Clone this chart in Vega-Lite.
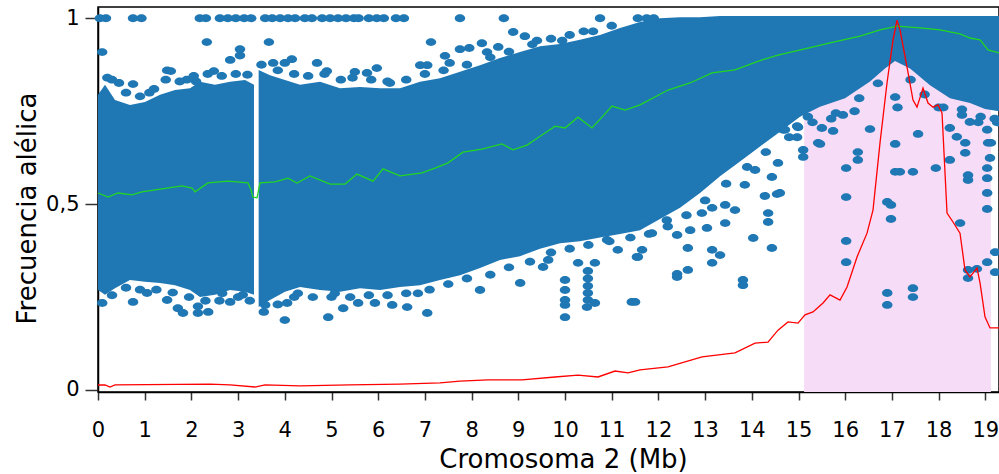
{
  "$schema": "https://vega.github.io/schema/vega-lite/v6.json",
  "width": 901,
  "height": 385,
  "autosize": {"type": "none"},
  "padding": {"left": 98, "top": 7, "right": 0, "bottom": 82},
  "background": "white",
  "config": {
    "font": "DejaVu Sans",
    "view": {"stroke": "black", "strokeWidth": 1.5},
    "axis": {"grid": false, "domainColor": "black", "domainWidth": 1.5, "tickColor": "#333333", "tickWidth": 1.5, "labelColor": "black", "titleColor": "black", "titleFontWeight": "normal", "labelFont": "DejaVu Sans", "titleFont": "DejaVu Sans"}
  },
  "datasets": {
    "region": [{"start": 15.12, "end": 19.12}],
    "band": [
      {"seg": "a", "pos": 0.0, "hi": 0.794, "lo": 0.269},
      {"seg": "a", "pos": 0.15, "hi": 0.821, "lo": 0.256},
      {"seg": "a", "pos": 0.364, "hi": 0.78, "lo": 0.274},
      {"seg": "a", "pos": 0.685, "hi": 0.767, "lo": 0.296},
      {"seg": "a", "pos": 1.006, "hi": 0.775, "lo": 0.291},
      {"seg": "a", "pos": 1.328, "hi": 0.794, "lo": 0.288},
      {"seg": "a", "pos": 1.649, "hi": 0.807, "lo": 0.282},
      {"seg": "a", "pos": 1.97, "hi": 0.812, "lo": 0.269},
      {"seg": "a", "pos": 2.184, "hi": 0.829, "lo": 0.25},
      {"seg": "a", "pos": 2.505, "hi": 0.821, "lo": 0.256},
      {"seg": "a", "pos": 2.827, "hi": 0.829, "lo": 0.269},
      {"seg": "a", "pos": 3.148, "hi": 0.834, "lo": 0.264},
      {"seg": "a", "pos": 3.34, "hi": 0.821, "lo": 0.256},
      {"seg": "b", "pos": 3.44, "hi": 0.861, "lo": 0.223},
      {"seg": "b", "pos": 3.683, "hi": 0.847, "lo": 0.242},
      {"seg": "b", "pos": 4.004, "hi": 0.834, "lo": 0.264},
      {"seg": "b", "pos": 4.325, "hi": 0.821, "lo": 0.277},
      {"seg": "b", "pos": 4.754, "hi": 0.829, "lo": 0.269},
      {"seg": "b", "pos": 5.182, "hi": 0.812, "lo": 0.264},
      {"seg": "b", "pos": 5.61, "hi": 0.815, "lo": 0.274},
      {"seg": "b", "pos": 6.039, "hi": 0.812, "lo": 0.269},
      {"seg": "b", "pos": 6.467, "hi": 0.812, "lo": 0.277},
      {"seg": "b", "pos": 6.895, "hi": 0.829, "lo": 0.282},
      {"seg": "b", "pos": 7.323, "hi": 0.839, "lo": 0.296},
      {"seg": "b", "pos": 7.752, "hi": 0.856, "lo": 0.309},
      {"seg": "b", "pos": 8.18, "hi": 0.874, "lo": 0.328},
      {"seg": "b", "pos": 8.608, "hi": 0.893, "lo": 0.35},
      {"seg": "b", "pos": 9.036, "hi": 0.909, "lo": 0.36},
      {"seg": "b", "pos": 9.465, "hi": 0.925, "lo": 0.38},
      {"seg": "b", "pos": 9.893, "hi": 0.931, "lo": 0.395},
      {"seg": "b", "pos": 10.321, "hi": 0.942, "lo": 0.4},
      {"seg": "b", "pos": 10.749, "hi": 0.955, "lo": 0.41},
      {"seg": "b", "pos": 11.178, "hi": 0.974, "lo": 0.42},
      {"seg": "b", "pos": 11.606, "hi": 0.99, "lo": 0.43},
      {"seg": "b", "pos": 12.034, "hi": 1.0, "lo": 0.46},
      {"seg": "b", "pos": 12.463, "hi": 1.003, "lo": 0.49},
      {"seg": "b", "pos": 12.891, "hi": 1.003, "lo": 0.53},
      {"seg": "b", "pos": 13.319, "hi": 1.006, "lo": 0.575},
      {"seg": "b", "pos": 13.747, "hi": 1.006, "lo": 0.615},
      {"seg": "b", "pos": 14.176, "hi": 1.006, "lo": 0.655},
      {"seg": "b", "pos": 14.604, "hi": 1.006, "lo": 0.695},
      {"seg": "b", "pos": 15.032, "hi": 1.006, "lo": 0.735},
      {"seg": "b", "pos": 15.46, "hi": 1.006, "lo": 0.762},
      {"seg": "b", "pos": 15.996, "hi": 1.006, "lo": 0.785},
      {"seg": "b", "pos": 16.531, "hi": 1.006, "lo": 0.83},
      {"seg": "b", "pos": 16.852, "hi": 1.006, "lo": 0.865},
      {"seg": "b", "pos": 17.066, "hi": 1.006, "lo": 0.885},
      {"seg": "b", "pos": 17.388, "hi": 1.006, "lo": 0.865},
      {"seg": "b", "pos": 17.816, "hi": 1.006, "lo": 0.82},
      {"seg": "b", "pos": 18.244, "hi": 1.006, "lo": 0.785},
      {"seg": "b", "pos": 18.672, "hi": 1.006, "lo": 0.772},
      {"seg": "b", "pos": 18.994, "hi": 1.006, "lo": 0.756},
      {"seg": "b", "pos": 19.293, "hi": 1.006, "lo": 0.75}
    ],
    "pts": [
      {"pos": 0.04, "af": 1}, {"pos": 0.17, "af": 1}, {"pos": 0.75, "af": 1}, {"pos": 0.93, "af": 1},
      {"pos": 2.18, "af": 1}, {"pos": 2.31, "af": 1}, {"pos": 2.61, "af": 1}, {"pos": 2.78, "af": 1},
      {"pos": 2.95, "af": 1}, {"pos": 3.13, "af": 1}, {"pos": 3.28, "af": 1}, {"pos": 3.58, "af": 1},
      {"pos": 3.73, "af": 1}, {"pos": 3.9, "af": 1}, {"pos": 4.07, "af": 1}, {"pos": 4.22, "af": 1},
      {"pos": 4.43, "af": 1}, {"pos": 4.58, "af": 1}, {"pos": 4.8, "af": 1}, {"pos": 4.97, "af": 1},
      {"pos": 5.14, "af": 1}, {"pos": 5.31, "af": 1}, {"pos": 5.48, "af": 1}, {"pos": 5.58, "af": 1},
      {"pos": 5.8, "af": 1}, {"pos": 5.97, "af": 1}, {"pos": 6.12, "af": 1}, {"pos": 6.38, "af": 1},
      {"pos": 6.55, "af": 1}, {"pos": 7.75, "af": 1}, {"pos": 8.69, "af": 1}, {"pos": 10.75, "af": 1},
      {"pos": 11.56, "af": 1}, {"pos": 11.75, "af": 1}, {"pos": 11.9, "af": 1},
      {"pos": 0.09, "af": 0.909}, {"pos": 2.33, "af": 0.936}, {"pos": 3.04, "af": 0.917}, {"pos": 3.04, "af": 0.9},
      {"pos": 2.83, "af": 0.888}, {"pos": 3.66, "af": 0.936}, {"pos": 3.75, "af": 0.88}, {"pos": 4.15, "af": 0.89},
      {"pos": 4.0, "af": 0.88}, {"pos": 4.69, "af": 0.88}, {"pos": 1.48, "af": 0.86}, {"pos": 1.56, "af": 0.858},
      {"pos": 2.48, "af": 0.858}, {"pos": 5.97, "af": 0.866}, {"pos": 7.13, "af": 0.936}, {"pos": 7.75, "af": 0.917},
      {"pos": 7.95, "af": 0.92}, {"pos": 7.43, "af": 0.899}, {"pos": 7.53, "af": 0.88}, {"pos": 8.22, "af": 0.933},
      {"pos": 8.33, "af": 0.909}, {"pos": 6.9, "af": 0.874}, {"pos": 7.05, "af": 0.874}, {"pos": 0.45, "af": 0.826},
      {"pos": 0.75, "af": 0.823}, {"pos": 5.5, "af": 0.856}, {"pos": 5.76, "af": 0.853}, {"pos": 6.25, "af": 0.826},
      {"pos": 4.9, "af": 0.858}, {"pos": 8.89, "af": 0.963}, {"pos": 8.57, "af": 0.923}, {"pos": 9.14, "af": 0.952},
      {"pos": 9.4, "af": 0.94}, {"pos": 9.94, "af": 0.94}, {"pos": 11.22, "af": 0.96}, {"pos": 10.4, "af": 0.965},
      {"pos": 1.1, "af": 0.8}, {"pos": 0.2, "af": 0.84}, {"pos": 1.9, "af": 0.835}, {"pos": 2.1, "af": 0.83},
      {"pos": 0.3, "af": 0.835}, {"pos": 0.6, "af": 0.8}, {"pos": 0.9, "af": 0.79}, {"pos": 1.2, "af": 0.81},
      {"pos": 1.45, "af": 0.835}, {"pos": 1.75, "af": 0.83}, {"pos": 2.05, "af": 0.845}, {"pos": 2.35, "af": 0.85},
      {"pos": 2.65, "af": 0.845}, {"pos": 2.95, "af": 0.85}, {"pos": 3.2, "af": 0.848}, {"pos": 3.5, "af": 0.875},
      {"pos": 3.85, "af": 0.86}, {"pos": 4.2, "af": 0.85}, {"pos": 4.5, "af": 0.845}, {"pos": 4.85, "af": 0.85},
      {"pos": 5.2, "af": 0.835}, {"pos": 5.45, "af": 0.84}, {"pos": 5.85, "af": 0.835}, {"pos": 6.2, "af": 0.83},
      {"pos": 6.6, "af": 0.835}, {"pos": 7.0, "af": 0.85}, {"pos": 7.4, "af": 0.86}, {"pos": 7.9, "af": 0.875},
      {"pos": 8.4, "af": 0.895}, {"pos": 8.8, "af": 0.91}, {"pos": 9.3, "af": 0.93}, {"pos": 9.7, "af": 0.945},
      {"pos": 10.1, "af": 0.955}, {"pos": 10.6, "af": 0.965}, {"pos": 11.0, "af": 0.98},
      {"pos": 0.3, "af": 0.255}, {"pos": 0.6, "af": 0.275}, {"pos": 0.9, "af": 0.27}, {"pos": 1.25, "af": 0.27},
      {"pos": 1.6, "af": 0.262}, {"pos": 1.95, "af": 0.25}, {"pos": 2.3, "af": 0.24}, {"pos": 2.6, "af": 0.24},
      {"pos": 3.0, "af": 0.25}, {"pos": 3.25, "af": 0.24}, {"pos": 3.55, "af": 0.21}, {"pos": 3.85, "af": 0.23},
      {"pos": 4.2, "af": 0.25}, {"pos": 4.6, "af": 0.25}, {"pos": 5.0, "af": 0.25}, {"pos": 5.4, "af": 0.25},
      {"pos": 5.8, "af": 0.255}, {"pos": 6.2, "af": 0.255}, {"pos": 6.6, "af": 0.26}, {"pos": 7.1, "af": 0.27},
      {"pos": 7.5, "af": 0.285}, {"pos": 7.9, "af": 0.3}, {"pos": 8.4, "af": 0.31}, {"pos": 8.8, "af": 0.33},
      {"pos": 9.25, "af": 0.345}, {"pos": 9.7, "af": 0.37}, {"pos": 10.1, "af": 0.38}, {"pos": 10.5, "af": 0.39},
      {"pos": 10.95, "af": 0.4}, {"pos": 11.4, "af": 0.41}, {"pos": 11.8, "af": 0.42}, {"pos": 12.2, "af": 0.44},
      {"pos": 12.6, "af": 0.47}, {"pos": 13.0, "af": 0.51}, {"pos": 13.45, "af": 0.555}, {"pos": 13.9, "af": 0.6},
      {"pos": 14.3, "af": 0.64}, {"pos": 14.8, "af": 0.68}, {"pos": 15.3, "af": 0.72}, {"pos": 15.8, "af": 0.745},
      {"pos": 16.3, "af": 0.785}, {"pos": 16.7, "af": 0.825}, {"pos": 17.4, "af": 0.835}, {"pos": 17.7, "af": 0.795},
      {"pos": 18.1, "af": 0.76}, {"pos": 18.5, "af": 0.755}, {"pos": 18.9, "af": 0.735}, {"pos": 19.2, "af": 0.73},
      {"pos": 0.09, "af": 0.234}, {"pos": 0.75, "af": 0.237}, {"pos": 1.05, "af": 0.261}, {"pos": 1.71, "af": 0.22},
      {"pos": 1.82, "af": 0.207}, {"pos": 2.14, "af": 0.207}, {"pos": 2.14, "af": 0.225}, {"pos": 2.36, "af": 0.21},
      {"pos": 2.83, "af": 0.237}, {"pos": 1.48, "af": 0.242}, {"pos": 2.66, "af": 0.26}, {"pos": 3.1, "af": 0.256},
      {"pos": 3.58, "af": 0.229}, {"pos": 4.0, "af": 0.188}, {"pos": 4.93, "af": 0.196}, {"pos": 4.05, "af": 0.234},
      {"pos": 5.25, "af": 0.22}, {"pos": 5.57, "af": 0.234}, {"pos": 5.93, "af": 0.234}, {"pos": 6.3, "af": 0.229},
      {"pos": 6.62, "af": 0.223}, {"pos": 7.05, "af": 0.207}, {"pos": 4.28, "af": 0.26}, {"pos": 5.07, "af": 0.26},
      {"pos": 6.85, "af": 0.26}, {"pos": 8.18, "af": 0.269}, {"pos": 9.04, "af": 0.288}, {"pos": 9.53, "af": 0.331},
      {"pos": 10.0, "af": 0.296}, {"pos": 10.0, "af": 0.269}, {"pos": 10.0, "af": 0.242}, {"pos": 10.0, "af": 0.229},
      {"pos": 10.0, "af": 0.196}, {"pos": 10.49, "af": 0.261}, {"pos": 10.49, "af": 0.242}, {"pos": 10.47, "af": 0.223},
      {"pos": 10.64, "af": 0.234}, {"pos": 10.49, "af": 0.28}, {"pos": 10.49, "af": 0.3}, {"pos": 10.49, "af": 0.32},
      {"pos": 11.43, "af": 0.237}, {"pos": 11.54, "af": 0.358}, {"pos": 11.13, "af": 0.377},
      {"pos": 10.9, "af": 0.404}, {"pos": 10.64, "af": 0.342}, {"pos": 10.28, "af": 0.342}, {"pos": 9.64, "af": 0.35},
      {"pos": 11.65, "af": 0.377}, {"pos": 11.56, "af": 0.358}, {"pos": 12.4, "af": 0.312}, {"pos": 12.4, "af": 0.304},
      {"pos": 12.63, "af": 0.323}, {"pos": 12.63, "af": 0.382}, {"pos": 13.15, "af": 0.342}, {"pos": 13.32, "af": 0.363},
      {"pos": 13.15, "af": 0.377}, {"pos": 13.81, "af": 0.296}, {"pos": 13.81, "af": 0.282}, {"pos": 14.03, "af": 0.409},
      {"pos": 14.43, "af": 0.382}, {"pos": 12.4, "af": 0.417}, {"pos": 13.04, "af": 0.436}, {"pos": 13.43, "af": 0.449},
      {"pos": 12.18, "af": 0.457}, {"pos": 12.68, "af": 0.43}, {"pos": 14.35, "af": 0.476}, {"pos": 14.35, "af": 0.452},
      {"pos": 14.54, "af": 0.527}, {"pos": 14.28, "af": 0.522}, {"pos": 13.64, "af": 0.484}, {"pos": 13.85, "af": 0.552},
      {"pos": 13.43, "af": 0.498}, {"pos": 13.15, "af": 0.49}, {"pos": 12.93, "af": 0.476}, {"pos": 11.5, "af": 0.237},
      {"pos": 11.86, "af": 0.422}, {"pos": 11.71, "af": 0.457}, {"pos": 14.56, "af": 0.611}, {"pos": 14.43, "af": 0.573},
      {"pos": 14.07, "af": 0.592}, {"pos": 14.97, "af": 0.71}, {"pos": 14.97, "af": 0.68}, {"pos": 15.1, "af": 0.646},
      {"pos": 15.1, "af": 0.627}, {"pos": 15.42, "af": 0.665}, {"pos": 14.67, "af": 0.7}, {"pos": 15.2, "af": 0.735},
      {"pos": 14.99, "af": 0.707}, {"pos": 14.71, "af": 0.7}, {"pos": 15.46, "af": 0.662}, {"pos": 15.5, "af": 0.705},
      {"pos": 15.74, "af": 0.697}, {"pos": 16.27, "af": 0.64}, {"pos": 16.27, "af": 0.619}, {"pos": 16.02, "af": 0.597},
      {"pos": 16.02, "af": 0.519}, {"pos": 16.02, "af": 0.401}, {"pos": 16.02, "af": 0.344}, {"pos": 16.53, "af": 0.702},
      {"pos": 16.9, "af": 0.261}, {"pos": 16.9, "af": 0.229}, {"pos": 17.45, "af": 0.274}, {"pos": 17.45, "af": 0.25},
      {"pos": 16.9, "af": 0.506}, {"pos": 16.98, "af": 0.498}, {"pos": 16.98, "af": 0.46}, {"pos": 17.07, "af": 0.662},
      {"pos": 17.07, "af": 0.587}, {"pos": 17.17, "af": 0.587}, {"pos": 17.45, "af": 0.587}, {"pos": 17.56, "af": 0.689},
      {"pos": 17.94, "af": 0.597}, {"pos": 18.24, "af": 0.619}, {"pos": 17.07, "af": 0.788}, {"pos": 17.12, "af": 0.76},
      {"pos": 18.63, "af": 0.578}, {"pos": 18.63, "af": 0.565}, {"pos": 18.46, "af": 0.449}, {"pos": 18.63, "af": 0.323},
      {"pos": 18.63, "af": 0.301}, {"pos": 18.82, "af": 0.326}, {"pos": 19.04, "af": 0.597}, {"pos": 19.04, "af": 0.57},
      {"pos": 19.04, "af": 0.53}, {"pos": 19.04, "af": 0.487}, {"pos": 19.04, "af": 0.344}, {"pos": 19.21, "af": 0.371},
      {"pos": 19.21, "af": 0.317}, {"pos": 19.06, "af": 0.665}, {"pos": 19.12, "af": 0.665}, {"pos": 19.04, "af": 0.7},
      {"pos": 19.1, "af": 0.624}, {"pos": 18.57, "af": 0.665}, {"pos": 18.57, "af": 0.638}, {"pos": 18.39, "af": 0.681},
      {"pos": 18.24, "af": 0.705}, {"pos": 18.67, "af": 0.721}, {"pos": 14.6, "af": 0.53}, {"pos": 19.25, "af": 0.72},
      {"pos": 15.95, "af": 0.74}, {"pos": 16.2, "af": 0.75}, {"pos": 15.7, "af": 0.73}, {"pos": 18.0, "af": 0.76},
      {"pos": 18.5, "af": 0.74}, {"pos": 18.85, "af": 0.72}
    ],
    "green": [
      {"pos": 0.0, "af": 0.53}, {"pos": 0.214, "af": 0.519}, {"pos": 0.428, "af": 0.53}, {"pos": 0.728, "af": 0.525},
      {"pos": 0.942, "af": 0.533}, {"pos": 1.37, "af": 0.541}, {"pos": 1.799, "af": 0.549}, {"pos": 2.013, "af": 0.543},
      {"pos": 2.077, "af": 0.533}, {"pos": 2.355, "af": 0.557}, {"pos": 2.784, "af": 0.562}, {"pos": 3.212, "af": 0.557},
      {"pos": 3.276, "af": 0.538}, {"pos": 3.319, "af": 0.519}, {"pos": 3.405, "af": 0.517}, {"pos": 3.469, "af": 0.557},
      {"pos": 3.79, "af": 0.56}, {"pos": 4.069, "af": 0.57}, {"pos": 4.261, "af": 0.557}, {"pos": 4.54, "af": 0.576},
      {"pos": 4.968, "af": 0.554}, {"pos": 5.289, "af": 0.554}, {"pos": 5.546, "af": 0.581}, {"pos": 5.889, "af": 0.562},
      {"pos": 6.103, "af": 0.595}, {"pos": 6.467, "af": 0.576}, {"pos": 6.938, "af": 0.584}, {"pos": 7.216, "af": 0.597},
      {"pos": 7.495, "af": 0.611}, {"pos": 7.816, "af": 0.64}, {"pos": 8.223, "af": 0.648}, {"pos": 8.651, "af": 0.662},
      {"pos": 8.887, "af": 0.646}, {"pos": 9.186, "af": 0.659}, {"pos": 9.507, "af": 0.686}, {"pos": 9.786, "af": 0.71},
      {"pos": 10.0, "af": 0.705}, {"pos": 10.278, "af": 0.734}, {"pos": 10.578, "af": 0.705}, {"pos": 10.792, "af": 0.734},
      {"pos": 11.006, "af": 0.764}, {"pos": 11.285, "af": 0.753}, {"pos": 11.606, "af": 0.767}, {"pos": 12.206, "af": 0.807},
      {"pos": 12.677, "af": 0.826}, {"pos": 13.148, "af": 0.853}, {"pos": 13.64, "af": 0.861}, {"pos": 14.218, "af": 0.888},
      {"pos": 14.561, "af": 0.901}, {"pos": 15.203, "af": 0.92}, {"pos": 15.675, "af": 0.934}, {"pos": 16.317, "af": 0.952},
      {"pos": 16.745, "af": 0.969}, {"pos": 17.109, "af": 0.979}, {"pos": 17.602, "af": 0.974}, {"pos": 18.03, "af": 0.969},
      {"pos": 18.458, "af": 0.958}, {"pos": 18.672, "af": 0.947}, {"pos": 18.887, "af": 0.942}, {"pos": 19.058, "af": 0.915},
      {"pos": 19.293, "af": 0.907}
    ],
    "red": [
      {"pos": 0.0, "af": 0.0135}, {"pos": 0.15, "af": 0.0135}, {"pos": 0.257, "af": 0.008}, {"pos": 0.364, "af": 0.0135},
      {"pos": 2.398, "af": 0.016}, {"pos": 2.827, "af": 0.0135}, {"pos": 3.362, "af": 0.008}, {"pos": 3.576, "af": 0.0135},
      {"pos": 4.325, "af": 0.011}, {"pos": 5.396, "af": 0.0135}, {"pos": 6.467, "af": 0.016}, {"pos": 7.323, "af": 0.019},
      {"pos": 7.752, "af": 0.024}, {"pos": 8.351, "af": 0.027}, {"pos": 9.079, "af": 0.027}, {"pos": 9.786, "af": 0.035},
      {"pos": 10.278, "af": 0.04}, {"pos": 10.707, "af": 0.035}, {"pos": 11.071, "af": 0.051}, {"pos": 11.349, "af": 0.046},
      {"pos": 11.606, "af": 0.054}, {"pos": 12.206, "af": 0.062}, {"pos": 12.934, "af": 0.089}, {"pos": 13.64, "af": 0.1},
      {"pos": 14.069, "af": 0.126}, {"pos": 14.347, "af": 0.129}, {"pos": 14.561, "af": 0.161}, {"pos": 14.775, "af": 0.183},
      {"pos": 14.989, "af": 0.18}, {"pos": 15.139, "af": 0.202}, {"pos": 15.31, "af": 0.21}, {"pos": 15.525, "af": 0.234},
      {"pos": 15.675, "af": 0.256}, {"pos": 15.889, "af": 0.242}, {"pos": 16.039, "af": 0.277}, {"pos": 16.253, "af": 0.358},
      {"pos": 16.467, "af": 0.422}, {"pos": 16.595, "af": 0.484}, {"pos": 16.745, "af": 0.665}, {"pos": 16.895, "af": 0.826},
      {"pos": 17.024, "af": 0.942}, {"pos": 17.109, "af": 0.995}, {"pos": 17.173, "af": 0.969}, {"pos": 17.323, "af": 0.869},
      {"pos": 17.452, "af": 0.78}, {"pos": 17.537, "af": 0.761}, {"pos": 17.666, "af": 0.812}, {"pos": 17.773, "af": 0.772},
      {"pos": 17.88, "af": 0.761}, {"pos": 17.987, "af": 0.767}, {"pos": 18.073, "af": 0.745}, {"pos": 18.18, "af": 0.476},
      {"pos": 18.308, "af": 0.452}, {"pos": 18.458, "af": 0.422}, {"pos": 18.565, "af": 0.323}, {"pos": 18.672, "af": 0.304},
      {"pos": 18.822, "af": 0.328}, {"pos": 18.887, "af": 0.288}, {"pos": 18.994, "af": 0.196}, {"pos": 19.101, "af": 0.167},
      {"pos": 19.293, "af": 0.167}
    ]
  },
  "layer": [
    {
      "data": {"name": "region"},
      "mark": {"type": "rect", "color": "#f7dcf7"},
      "encoding": {
        "x": {"field": "start", "type": "quantitative", "scale": {"domain": [0, 19.293], "nice": false, "zero": false},
          "axis": {"values": [0,1,2,3,4,5,6,7,8,9,10,11,12,13,14,15,16,17,18,19], "title": "Cromosoma 2 (Mb)", "titleFontSize": 26, "titleX": 465, "titleY": 75, "titleBaseline": "alphabetic", "labelFontSize": 21, "tickSize": 8, "labelPadding": 19, "labelFlush": false, "labelOverlap": false}},
        "x2": {"field": "end"},
        "y": {"datum": 1.006, "type": "quantitative", "scale": {"domain": [-0.0054, 1.0304], "nice": false, "zero": false},
          "axis": {"values": [0, 0.5, 1], "labelExpr": "datum.value == 0.5 ? '0,5' : (datum.value == 1 ? '1' : '0')", "title": "Frecuencia alélica", "titleFontSize": 26, "titleX": -63, "titleY": 201, "titleBaseline": "alphabetic", "titleAngle": -90, "labelFontSize": 21, "tickSize": 13, "labelPadding": 6, "labelFlush": false}},
        "y2": {"datum": -0.0054}
      }
    },
    {
      "data": {"name": "band"},
      "mark": {"type": "area", "color": "#1f77b4", "opacity": 1},
      "encoding": {
        "x": {"field": "pos", "type": "quantitative"},
        "y": {"field": "hi", "type": "quantitative"},
        "y2": {"field": "lo"},
        "detail": {"field": "seg"}
      }
    },
    {
      "data": {"name": "pts"},
      "mark": {"type": "point", "filled": true, "color": "#1f77b4", "opacity": 1, "size": 110, "shape": "M-1,0A1,0.75,0,1,1,1,0A1,0.75,0,1,1,-1,0Z"},
      "encoding": {
        "x": {"field": "pos", "type": "quantitative"},
        "y": {"field": "af", "type": "quantitative"}
      }
    },
    {
      "data": {"name": "green"},
      "mark": {"type": "line", "color": "#22d622", "strokeWidth": 1.3},
      "encoding": {
        "x": {"field": "pos", "type": "quantitative"},
        "y": {"field": "af", "type": "quantitative"}
      }
    },
    {
      "data": {"name": "red"},
      "mark": {"type": "line", "color": "#ff0000", "strokeWidth": 1.3},
      "encoding": {
        "x": {"field": "pos", "type": "quantitative"},
        "y": {"field": "af", "type": "quantitative"}
      }
    }
  ]
}
